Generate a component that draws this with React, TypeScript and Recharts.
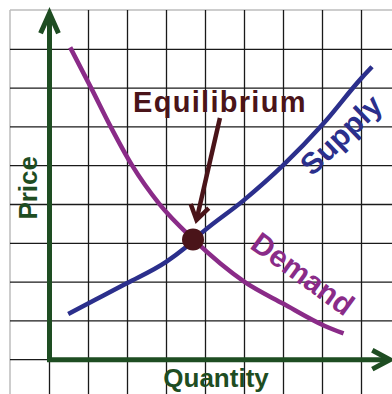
import { LineChart, Line, XAxis, YAxis, ReferenceLine, ReferenceDot } from 'recharts';

// quantity (x) and price (y) in grid units
const demandQty = [0.53, 1.08, 1.55, 2.11, 2.82, 3.69, 5.01, 6.0, 7.06, 7.54];
const demandPrice = [8.05, 6.98, 6.04, 5.02, 4.01, 3.1, 2.0, 1.44, 0.87, 0.68];
const supplyQty = [0.48, 0.99, 1.98, 3.0, 3.47, 3.94, 4.97, 6.0, 7.0, 8.01, 8.27];
const supplyPrice = [1.18, 1.45, 1.97, 2.53, 2.88, 3.3, 4.1, 5.02, 6.06, 7.27, 7.55];
const equilibrium = [3.68, 3.1];
const gridTicks = [0, 1, 2, 3, 4, 5, 6, 7, 8];
const labels = ['Price', 'Quantity', 'Equilibrium', 'Supply', 'Demand'];

const demandData = demandQty.map((q, i) => ({ q, p: demandPrice[i] }));
const supplyData = supplyQty.map((q, i) => ({ q, p: supplyPrice[i] }));

const W = 392;
const H = 394;
const X_DOMAIN: [number, number] = [-1.0128, 8.782];
const Y_DOMAIN: [number, number] = [-0.884, 9.013];

const GREEN = '#1e4d22';
const PURPLE = '#8a2b88';
const NAVY = '#2b2f8c';
const MAROON = '#4a1419';
const GRID = '#1a1a1a';
const FONT = '"Liberation Sans", Arial, sans-serif';

// line + open chevron head at the (x2, y2) end
const arrow = (color: string, width: number, head: number, spread: number) => (props: any) => {
    const { x1, y1, x2, y2 } = props;
    const a = Math.atan2(y1 - y2, x1 - x2);
    const s = (spread * Math.PI) / 180;
    const ax = x2 + head * Math.cos(a + s);
    const ay = y2 + head * Math.sin(a + s);
    const bx = x2 + head * Math.cos(a - s);
    const by = y2 + head * Math.sin(a - s);
    const ex = x2 + 3 * Math.cos(a);
    const ey = y2 + 3 * Math.sin(a);
    return (
        <g>
            <line x1={x1} y1={y1} x2={ex} y2={ey} stroke={color} strokeWidth={width} />
            <path
                d={`M${ax},${ay}L${x2},${y2}L${bx},${by}`}
                fill="none"
                stroke={color}
                strokeWidth={width}
                strokeLinejoin="miter"
            />
        </g>
    );
};

const textLabel = (value: string, fill: string, fontSize: number, angle = 0, letterSpacing = 0) => ({
    value,
    position: 'center' as const,
    angle,
    fill,
    fontSize,
    fontWeight: 'bold',
    fontFamily: FONT,
    letterSpacing,
});

export default function App() {
    return (
        <div style={{ position: 'absolute', left: 0, top: 0, background: '#fff' }}>
            <LineChart width={W} height={H} margin={{ top: 10, right: 0, left: 10, bottom: 0 }}>
                <XAxis
                    type="number"
                    dataKey="q"
                    domain={X_DOMAIN}
                    allowDataOverflow
                    ticks={gridTicks}
                    height={0}
                    axisLine={false}
                    tickLine={false}
                    tick={false}
                />
                <YAxis
                    type="number"
                    dataKey="p"
                    domain={Y_DOMAIN}
                    allowDataOverflow
                    ticks={gridTicks}
                    width={0}
                    axisLine={false}
                    tickLine={false}
                    tick={false}
                />
                {/* square grid, kept under the curves */}
                <ReferenceLine x={X_DOMAIN[0]} stroke="#bdbdbd" strokeWidth={1.5} zIndex={-100} />
                <ReferenceLine y={Y_DOMAIN[1]} stroke="#bdbdbd" strokeWidth={1.5} zIndex={-100} />
                {gridTicks.map((t) => (
                    <ReferenceLine key={`gx${t}`} x={t} stroke={GRID} strokeWidth={1.3} zIndex={-100} />
                ))}
                {gridTicks.map((t) => (
                    <ReferenceLine key={`gy${t}`} y={t} stroke={GRID} strokeWidth={1.3} zIndex={-100} />
                ))}

                {/* axes with arrow heads */}
                <ReferenceLine
                    segment={[{ x: 0, y: -0.06 }, { x: 0, y: 8.93 }]}
                    shape={arrow(GREEN, 5, 22, 24)}
                />
                <ReferenceLine
                    segment={[{ x: -0.06, y: 0 }, { x: 8.73, y: 0 }]}
                    shape={arrow(GREEN, 5, 20, 28)}
                />

                <Line
                    data={demandData}
                    dataKey="p"
                    type="monotone"
                    stroke={PURPLE}
                    strokeWidth={4.5}
                    dot={false}
                    isAnimationActive={false}
                />
                <Line
                    data={supplyData}
                    dataKey="p"
                    type="monotone"
                    stroke={NAVY}
                    strokeWidth={4.5}
                    dot={false}
                    isAnimationActive={false}
                />

                <ReferenceLine
                    segment={[{ x: 4.37, y: 6.23 }, { x: 3.77, y: 3.6 }]}
                    shape={arrow(MAROON, 4.5, 17, 33)}
                />
                <ReferenceDot x={equilibrium[0]} y={equilibrium[1]} r={11} fill={MAROON} stroke="none" zIndex={1500} />

                <ReferenceDot x={-0.564} y={4.43} r={0} fill="none" stroke="none" label={textLabel(labels[0], GREEN, 26, -90)} />
                <ReferenceDot x={4.27} y={-0.459} r={0} fill="none" stroke="none" label={textLabel(labels[1], GREEN, 26)} />
                <ReferenceDot x={4.37} y={6.64} r={0} fill="none" stroke="none" label={textLabel(labels[2], MAROON, 29, 0, 1.3)} />
                <ReferenceDot x={7.47} y={5.8} r={0} fill="none" stroke="none" label={textLabel(labels[3], NAVY, 30, -44)} />
                <ReferenceDot x={6.5} y={2.22} r={0} fill="none" stroke="none" label={textLabel(labels[4], PURPLE, 30, 36)} />
            </LineChart>
        </div>
    );
}
